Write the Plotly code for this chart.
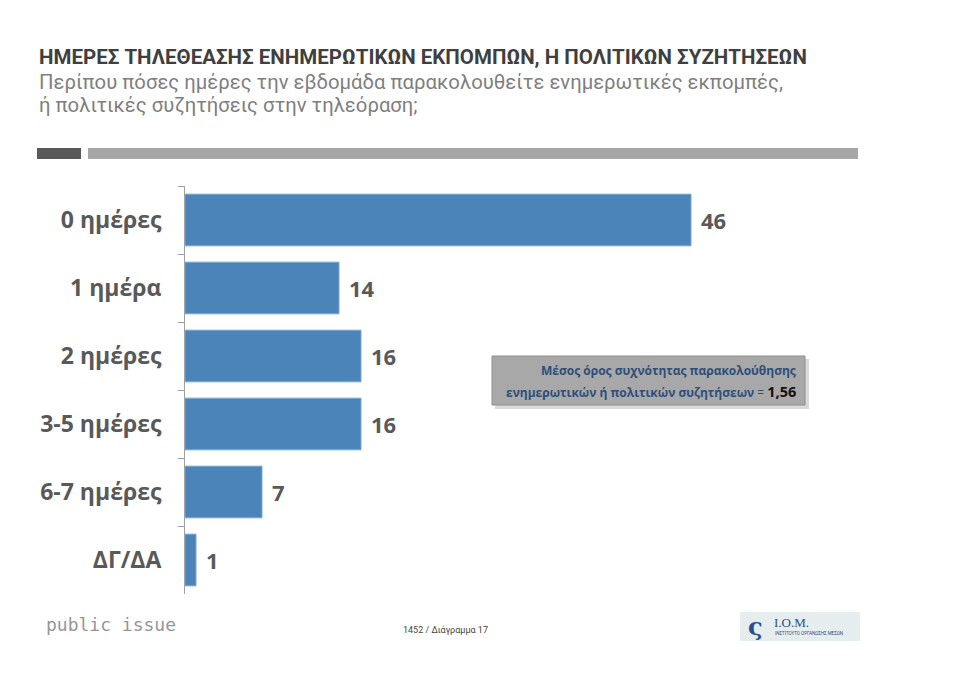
import plotly.graph_objects as go

# Survey answers: days per week spent watching news or political talk shows
categories = ["0 ημέρες", "1 ημέρα", "2 ημέρες", "3-5 ημέρες", "6-7 ημέρες", "ΔΓ/ΔΑ"]
values = [46, 14, 16, 16, 7, 1]
mean_value = "1,56"

W, H = 962, 681
PLOT_L, PLOT_R, PLOT_T, PLOT_B = 185, 860, 186, 594
PX_PER_UNIT = 11.0
x_max = (PLOT_R - PLOT_L) / PX_PER_UNIT


def px(x):
    """Horizontal pixel -> paper coordinate."""
    return (x - PLOT_L) / (PLOT_R - PLOT_L)


def py(y):
    """Vertical pixel -> paper coordinate."""
    return (PLOT_B - y) / (PLOT_B - PLOT_T)


BAR_COLOR = "#4a84b9"
LABEL_GRAY = "#595959"
FONT = "Open Sans"
NARROW = "Roboto"

fig = go.Figure()
fig.add_trace(go.Bar(
    x=values,
    y=categories,
    orientation="h",
    marker=dict(color=BAR_COLOR, line=dict(color="#7aa7d2", width=1)),
    width=0.76,
    hoverinfo="x+y",
))

annotations = []
# value labels at the end of each bar
for cat, v in zip(categories, values):
    annotations.append(dict(
        x=v, y=cat, xref="x", yref="y", text=f"<b>{v}</b>",
        showarrow=False, xanchor="left", yanchor="middle", xshift=8,
        font=dict(family=FONT, size=22, color=LABEL_GRAY),
    ))

# header
annotations += [
    dict(x=px(37), y=py(57), xref="paper", yref="paper", xanchor="left", yanchor="middle",
         text="<b>ΗΜΕΡΕΣ ΤΗΛΕΘΕΑΣΗΣ ΕΝΗΜΕΡΩΤΙΚΩΝ ΕΚΠΟΜΠΩΝ, Η ΠΟΛΙΤΙΚΩΝ ΣΥΖΗΤΗΣΕΩΝ</b>",
         showarrow=False, font=dict(family=NARROW, size=20.5, color="#3f3f3f")),
    dict(x=px(37), y=py(82), xref="paper", yref="paper", xanchor="left", yanchor="middle",
         text="Περίπου πόσες ημέρες την εβδομάδα παρακολουθείτε ενημερωτικές εκπομπές,",
         showarrow=False, font=dict(family=NARROW, size=20.3, color="#7f7f7f")),
    dict(x=px(37), y=py(105), xref="paper", yref="paper", xanchor="left", yanchor="middle",
         text="ή πολιτικές συζητήσεις στην τηλεόραση;",
         showarrow=False, font=dict(family=NARROW, size=20.3, color="#7f7f7f")),
]

# mean frequency callout (two lines, right aligned)
annotations += [
    dict(x=px(798), y=py(370), xref="paper", yref="paper", xanchor="right", yanchor="middle",
         showarrow=False, text="<b>Μέσος όρος συχνότητας παρακολούθησης</b>",
         font=dict(family=FONT, size=12, color="#2e4f7a")),
    dict(x=px(798), y=py(391), xref="paper", yref="paper", xanchor="right", yanchor="middle",
         showarrow=False,
         text=("<b>ενημερωτικών ή πολιτικών συζητήσεων</b> = "
               f"<b><span style='color:#111111;font-size:14.5px'>{mean_value}</span></b>"),
         font=dict(family=FONT, size=12, color="#2e4f7a")),
]

# footer
annotations += [
    dict(x=px(44), y=py(624), xref="paper", yref="paper", xanchor="left", yanchor="middle",
         text="public issue", showarrow=False,
         font=dict(family="DejaVu Sans Mono", size=18, color="#969696")),
    dict(x=px(445), y=py(630), xref="paper", yref="paper", xanchor="center", yanchor="middle",
         text="1452 / Διάγραμμα 17", showarrow=False,
         font=dict(family=NARROW, size=9, color="#444444")),
    dict(x=px(772), y=py(622), xref="paper", yref="paper", xanchor="left", yanchor="middle",
         text="I.O.M.", showarrow=False,
         font=dict(family="Liberation Serif", size=13, color="#2a4f8c")),
    dict(x=px(773), y=py(633), xref="paper", yref="paper", xanchor="left", yanchor="middle",
         text="ΙΝΣΤΙΤΟΥΤΟ ΟΡΓΑΝΩΣΗΣ ΜΕΣΩΝ", showarrow=False,
         font=dict(family=NARROW, size=4.5, color="#2a4f8c")),
    dict(x=px(755), y=py(626), xref="paper", yref="paper", xanchor="center", yanchor="middle",
         text="<b>ς</b>", showarrow=False,
         font=dict(family="DejaVu Serif", size=24, color="#2a4f8c")),
]


def rect(x0, y0, x1, y1, fill, line=None, lw=0):
    return dict(type="rect", xref="paper", yref="paper",
                x0=px(x0), x1=px(x1), y0=py(y1), y1=py(y0),
                fillcolor=fill, line=dict(color=line or fill, width=lw), layer="below")


shapes = [
    rect(37, 148, 81, 159, "#595959"),
    rect(88, 148, 858, 159, "#a6a6a6"),
    # callout shadow and box
    rect(495, 359, 809, 409, "#d9d9d9"),
    rect(492, 356, 805, 405, "#a8a8a8", "#8f8f8f", 1),
    # logo plate
    rect(740, 612, 860, 641, "#e6edef"),
]

fig.update_layout(
    width=W, height=H,
    margin=dict(l=PLOT_L, r=W - PLOT_R, t=PLOT_T, b=H - PLOT_B, pad=0),
    paper_bgcolor="white", plot_bgcolor="white",
    showlegend=False,
    annotations=annotations,
    shapes=shapes,
    xaxis=dict(range=[0, x_max], visible=False, fixedrange=True),
    yaxis=dict(
        categoryorder="array", categoryarray=categories, autorange="reversed",
        showline=True, linecolor="#a0a0a0", linewidth=1,
        ticks="outside", tickson="boundaries", ticklen=6, tickcolor="#a0a0a0",
        ticklabelstandoff=18,
        tickfont=dict(family=FONT, size=23, color=LABEL_GRAY, weight="bold"),
        showgrid=False, zeroline=False, fixedrange=True,
    ),
    bargap=0.24,
)

fig.write_html("out.html")
